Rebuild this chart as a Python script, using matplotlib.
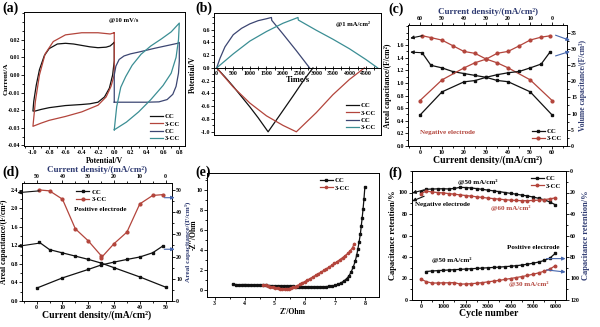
import matplotlib
matplotlib.use("Agg")
import matplotlib.pyplot as plt
from matplotlib.ticker import AutoMinorLocator, FormatStrFormatter

plt.rcParams['font.family'] = ['Liberation Serif', 'DejaVu Serif']
plt.rcParams['font.weight'] = 'bold'
plt.rcParams['axes.labelweight'] = 'bold'

BLACK = '#111111'
RED = '#b3453c'
NAVY = '#3c4672'
TEAL = '#3b8e94'
AXBLUE = '#2f3b72'
ARROW = '#4666ad'

# (a) cyclic voltammetry @10 mV/s
cv_cc_neg_v = [0.0, -0.05, -0.1, -0.2, -0.3, -0.4, -0.5, -0.6, -0.7, -0.8, -0.86, -0.92, -0.96, -0.99,
               -1.0, -0.98, -0.9, -0.8, -0.6, -0.4, -0.3, -0.2, -0.12, -0.06, -0.02, 0.0, 0.0]
cv_cc_neg_i = [0.0185, 0.0165, 0.0158, 0.0155, 0.0160, 0.0168, 0.0176, 0.0180, 0.0176, 0.0150, 0.0110,
               0.0030, -0.0060, -0.0150, -0.0205, -0.0206, -0.0196, -0.0186, -0.0174, -0.0168, -0.0164,
               -0.0155, -0.0125, -0.0075, 0.0000, 0.0080, 0.0185]
cv_3cc_neg_v = [0.0, -0.05, -0.2, -0.4, -0.6, -0.75, -0.85, -0.92, -0.97, -1.0, -0.9, -0.8, -0.6, -0.4,
                -0.2, -0.1, -0.04, 0.0, 0.0]
cv_3cc_neg_i = [0.0240, 0.0233, 0.0240, 0.0240, 0.0228, 0.0190, 0.0120, 0.0000, -0.0150, -0.0292,
                -0.0274, -0.0258, -0.0236, -0.0210, -0.0172, -0.0125, -0.0065, 0.0000, 0.0240]
cv_cc_pos_v = [0.0, 0.0, 0.02, 0.06, 0.12, 0.2, 0.3, 0.4, 0.5, 0.6, 0.7, 0.78, 0.8, 0.8, 0.79, 0.76,
               0.72, 0.65, 0.55, 0.4, 0.0]
cv_cc_pos_i = [-0.0155, 0.0000, 0.0050, 0.0088, 0.0108, 0.0120, 0.0130, 0.0141, 0.0152, 0.0162, 0.0172,
               0.0180, 0.0185, 0.0080, 0.0010, -0.0065, -0.0110, -0.0140, -0.0153, -0.0155, -0.0155]
cv_3cc_pos_v = [0.0, 0.03, 0.08, 0.14, 0.22, 0.33, 0.45, 0.58, 0.7, 0.8, 0.79, 0.76, 0.7, 0.6, 0.45,
                0.3, 0.15, 0.0]
cv_3cc_pos_i = [-0.0312, -0.0180, -0.0070, -0.0010, 0.0055, 0.0118, 0.0165, 0.0205, 0.0245, 0.0295,
                0.0200, 0.0100, 0.0010, -0.0060, -0.0140, -0.0210, -0.0268, -0.0312]

# (b) charge/discharge @1 mA/cm2
gcd_cc_pos_t = [0, 100, 250, 500, 750, 1000, 1250, 1500, 1650, 1660, 2000, 2400, 2800]
gcd_cc_pos_v = [0.0, 0.15, 0.33, 0.52, 0.62, 0.69, 0.74, 0.77, 0.79, 0.745, 0.53, 0.27, 0.0]
gcd_3cc_pos_t = [0, 500, 1000, 1500, 2000, 2450, 2460, 3000, 3500, 4000, 4500, 4850]
gcd_3cc_pos_v = [0.0, 0.22, 0.42, 0.57, 0.70, 0.79, 0.75, 0.59, 0.45, 0.30, 0.13, 0.0]
gcd_cc_neg_t = [0, 250, 500, 750, 1000, 1250, 1550, 1900, 2300, 2600, 2900]
gcd_cc_neg_v = [0.0, -0.14, -0.29, -0.45, -0.61, -0.78, -1.0, -0.74, -0.44, -0.21, 0.0]
gcd_3cc_neg_t = [0, 500, 1000, 1500, 2000, 2400, 3000, 3500, 4000, 4450]
gcd_3cc_neg_v = [0.0, -0.30, -0.55, -0.75, -0.90, -1.0, -0.70, -0.42, -0.18, 0.0]

# (c) negative electrode rate capability
c_cd = [1, 5, 10, 15, 20, 25, 30, 35, 40, 50, 60]
c_cc_areal = [1.48, 1.28, 1.24, 1.18, 1.15, 1.12, 1.09, 1.04, 1.02, 0.86, 0.49]
c_3cc_areal = [1.75, 1.72, 1.68, 1.59, 1.50, 1.47, 1.38, 1.32, 1.24, 1.05, 0.72]
c_cd_top = [60, 50, 40, 35, 30, 25, 20, 15, 10, 5, 1]
c_cc_vol = [9.5, 16.7, 19.8, 20.2, 21.2, 22.0, 22.6, 23.0, 24.1, 25.3, 29.0]
c_3cc_vol = [14.0, 20.4, 24.1, 25.7, 26.8, 28.6, 29.2, 30.9, 32.7, 33.6, 34.0]

# (d) positive electrode rate capability
d_cd = [1, 5, 10, 15, 20, 25, 30, 40, 50]
d_cc_areal = [1.27, 1.11, 1.04, 0.97, 0.90, 0.82, 0.72, 0.52, 0.30]
d_cd_top = [50, 40, 30, 25, 20, 15, 10, 5, 1]
d_cc_right = [5.8, 10.4, 14.2, 16.2, 17.5, 18.7, 19.8, 21.7, 24.8]
d_3cc_cd = [1, 5, 10, 15, 20, 25]
d_3cc_areal = [2.40, 2.38, 2.20, 1.56, 1.30, 0.98]
d_3cc_cd_top = [25, 20, 15, 10, 5, 1]
d_3cc_right = [19.4, 25.8, 31.0, 43.7, 47.5, 47.9]

# (e) Nyquist plots
z_cc_re = [3.60, 3.70, 3.80, 3.90, 4.00, 4.10, 4.20, 4.30, 4.40, 4.50, 4.60, 4.70, 4.80, 4.90, 5.00,
           5.10, 5.20, 5.30, 5.40, 5.50, 5.60, 5.70, 5.80, 5.90, 6.00, 6.10, 6.20, 6.30, 6.40, 6.50,
           6.60, 6.70, 6.80, 6.90, 7.00, 7.10, 7.20, 7.30, 7.40, 7.48, 7.55, 7.62, 7.68, 7.73, 7.77,
           7.81, 7.85, 7.88, 7.91, 7.94, 7.97, 8.00]
z_cc_im = [0.58, 0.55, 0.53, 0.54, 0.55, 0.54, 0.52, 0.50, 0.49, 0.48, 0.47, 0.46, 0.45, 0.44, 0.43,
           0.42, 0.41, 0.40, 0.39, 0.38, 0.36, 0.35, 0.34, 0.33, 0.32, 0.32, 0.31, 0.31, 0.31, 0.32,
           0.33, 0.34, 0.36, 0.40, 0.46, 0.56, 0.70, 0.90, 1.15, 1.45, 1.85, 2.35, 2.90, 3.50, 4.15,
           4.85, 5.60, 6.40, 7.20, 8.10, 9.10, 10.30]
z_3cc_re = [4.62, 4.70, 4.78, 4.86, 4.94, 5.02, 5.10, 5.18, 5.26, 5.33, 5.40, 5.47, 5.54, 5.61, 5.68,
            5.75, 5.83, 5.91, 6.00, 6.09, 6.18, 6.27, 6.36, 6.45, 6.54, 6.63, 6.72, 6.81, 6.90, 6.99,
            7.08, 7.17, 7.26, 7.35, 7.44, 7.52, 7.59, 7.65]
z_3cc_im = [0.52, 0.46, 0.40, 0.35, 0.29, 0.24, 0.19, 0.14, 0.10, 0.08, 0.10, 0.14, 0.19, 0.26, 0.34,
            0.44, 0.56, 0.70, 0.85, 1.00, 1.15, 1.31, 1.47, 1.63, 1.79, 1.96, 2.13, 2.30, 2.48, 2.66,
            2.85, 3.04, 3.24, 3.45, 3.68, 3.95, 4.25, 4.65]

# (f) cycling stability
cyc = [0, 250, 500, 750, 1000, 1250, 1500, 1750, 2000, 2250, 2500, 2750, 3000, 3250, 3500, 3750,
       4000, 4250, 4500, 4750, 5000, 5250, 5500, 5750, 6000]
ret_cc_neg = [100.5, 103.0, 103.2, 103.4, 103.5, 103.3, 103.8, 104.8, 104.6, 104.2, 103.6, 102.9,
              102.2, 101.5, 100.8, 100.0, 99.2, 98.4, 97.6, 96.8, 95.8, 94.6, 93.2, 91.2, 88.5]
ret_3cc_neg = [99.0, 101.3, 100.5, 100.0, 99.6, 99.0, 98.4, 97.8, 97.2, 96.6, 96.0, 95.4, 94.8,
               94.3, 93.8, 93.3, 92.9, 92.6, 92.4, 92.4, 92.6, 92.9, 93.4, 94.1, 95.0]
cyc_cc_pos = cyc[1:]
ret_cc_pos = [93.5, 93.0, 92.7, 92.4, 92.1, 91.8, 91.5, 91.2, 90.9, 90.6, 90.3, 90.0, 89.7, 89.4,
              89.0, 88.6, 88.1, 87.5, 86.7, 85.8, 84.7, 83.2, 81.0, 76.5]
ret_3cc_pos = [100.5, 103.0, 104.2, 104.2, 104.0, 104.0, 103.8, 105.2, 105.1, 104.8, 104.4, 103.8,
               103.1, 102.4, 101.7, 100.9, 100.0, 99.1, 98.2, 97.2, 96.0, 94.8, 93.2, 91.2, 88.0]

W, H = 600, 327
fig = plt.figure(figsize=(W / 100, H / 100), dpi=100)


def box(l, t, r, b):
    return [l / W, 1 - b / H, (r - l) / W, (b - t) / H]


def style(ax, minor=True):
    ax.tick_params(which='both', labelsize=4.2, width=0.6, pad=1, direction='out')
    ax.tick_params(which='major', length=2)
    ax.tick_params(which='minor', length=1.2)
    if minor:
        ax.xaxis.set_minor_locator(AutoMinorLocator(2))
        ax.yaxis.set_minor_locator(AutoMinorLocator(2))
    for sp in ax.spines.values():
        sp.set_linewidth(0.7)


def arrow(ax, tail, head, color=BLACK):
    ax.annotate('', xy=head, xytext=tail, annotation_clip=False,
                arrowprops=dict(arrowstyle='-|>', color=color, lw=0.8, mutation_scale=5,
                                shrinkA=0, shrinkB=0))


def twin_top_right(ax):
    ax2 = fig.add_axes(ax.get_position(), frameon=False)
    ax2.patch.set_visible(False)
    ax2.xaxis.tick_top()
    ax2.xaxis.set_label_position('top')
    ax2.yaxis.tick_right()
    ax2.yaxis.set_label_position('right')
    return ax2


lab = dict(fontsize=5.5, labelpad=1)
leg = dict(frameon=False, fontsize=4.8, handlelength=2.0, handletextpad=0.3, labelspacing=0.25,
           borderpad=0.2)

# ---- (a)
ax = fig.add_axes(box(24, 12, 185, 146))
ax.plot(cv_cc_neg_v, cv_cc_neg_i, color=BLACK, lw=0.9, label='CC')
ax.plot(cv_3cc_neg_v, cv_3cc_neg_i, color=RED, lw=0.9, label='3-CC')
ax.plot(cv_cc_pos_v, cv_cc_pos_i, color=NAVY, lw=0.9, label='CC')
ax.plot(cv_3cc_pos_v, cv_3cc_pos_i, color=TEAL, lw=0.9, label='3-CC')
ax.set_xlim(-1.11, 0.87)
ax.set_ylim(-0.0404, 0.0358)
ax.set_xticks([-1.0, -0.8, -0.6, -0.4, -0.2, 0.0, 0.2, 0.4, 0.6, 0.8])
ax.set_yticks([-0.04, -0.03, -0.02, -0.01, 0.0, 0.01, 0.02])
ax.xaxis.set_major_formatter(FormatStrFormatter('%.1f'))
ax.yaxis.set_major_formatter(FormatStrFormatter('%.2f'))
style(ax)
ax.set_xlabel('Potential/V', **lab)
ax.set_ylabel('Current/A', fontsize=5.2, labelpad=1)
ax.yaxis.set_label_coords(-0.097, 0.5)
ax.text(0.62, 0.94, '@10 mV/s', transform=ax.transAxes, fontsize=4.8, ha='center', va='center')
ax.legend(loc='lower right', **leg)

# ---- (b)
ax = fig.add_axes(box(214, 13, 381, 135))
ax.plot(gcd_cc_neg_t, gcd_cc_neg_v, color=BLACK, lw=0.9, label='CC')
ax.plot(gcd_3cc_neg_t, gcd_3cc_neg_v, color=RED, lw=0.9, label='3-CC')
ax.plot(gcd_cc_pos_t, gcd_cc_pos_v, color=NAVY, lw=0.9, label='CC')
ax.plot(gcd_3cc_pos_t, gcd_3cc_pos_v, color=TEAL, lw=0.9, label='3-CC')
ax.set_xlim(-80, 4950)
ax.set_ylim(-1.05, 0.86)
ax.set_xticks(range(0, 5000, 500))
ax.set_yticks([-1.0, -0.8, -0.6, -0.4, -0.2, 0.0, 0.2, 0.4, 0.6])
ax.yaxis.set_major_formatter(FormatStrFormatter('%.1f'))
style(ax)
ax.spines['bottom'].set_position(('data', 0))
ax.tick_params(axis='x', which='both', direction='inout', length=2.5)
ax.plot([0, 1], [0, 0], transform=ax.transAxes, color='k', lw=0.7, clip_on=False)
ax.set_xlabel('Time/s', fontsize=6, labelpad=0)
ax.set_ylabel('Potential/V', **lab)
ax.yaxis.set_label_coords(-0.10, 0.5)
ax.text(0.83, 0.91, '@1 mA/cm²', transform=ax.transAxes, fontsize=4.8, ha='center', va='center')
ax.legend(loc='lower right', **leg)

# ---- (c)
ax = fig.add_axes(box(408, 25, 567, 146))
ax.plot(c_cd, c_cc_areal, color=BLACK, lw=0.9, marker='s', ms=2, label='CC')
ax.plot(c_cd, c_3cc_areal, color=RED, lw=0.9, marker='o', ms=2, label='3-CC')
ax.set_xlim(-5.4, 66.7)
ax.set_ylim(0, 1.92)
ax.set_xticks(range(0, 70, 10))
ax.set_yticks([0.0, 0.2, 0.4, 0.6, 0.8, 1.0, 1.2, 1.4, 1.6])
ax.yaxis.set_major_formatter(FormatStrFormatter('%.1f'))
style(ax)
ax.set_xlabel('Current density/(mA/cm²)', fontsize=7, labelpad=0)
ax.set_ylabel('Areal capacitance/(F/cm²)', **lab)
ax.yaxis.set_label_coords(-0.10, 0.5)
ax.text(0.0, 0.19, 'Negative electrode', color=RED, fontsize=5)
ax.legend(loc='lower right', **leg)
arrow(ax, (1.1, 1.75), (-4.4, 1.71))
arrow(ax, (1.1, 1.48), (-4.4, 1.49))
ax2 = twin_top_right(ax)
ax2.plot(c_cd_top, c_cc_vol, color=BLACK, lw=0.9, marker='s', ms=2)
ax2.plot(c_cd_top, c_3cc_vol, color=RED, lw=0.9, marker='o', ms=2)
ax2.set_xlim(65.4, -6.7)
ax2.set_ylim(0, 1.92 * 19.45)
ax2.set_xticks(range(0, 70, 10))
ax2.set_yticks(range(0, 40, 5))
style(ax2)
ax2.set_xlabel('Current density/(mA/cm²)', fontsize=6.5, color=AXBLUE, labelpad=1)
ax2.set_ylabel('Volume capacitance/(F/cm³)', fontsize=5.5, color=AXBLUE, labelpad=1)
ax2.yaxis.set_label_coords(1.075, 0.5)
arrow(ax2, (-1.5, 34.2), (-8.0, 32.6), ARROW)
arrow(ax2, (-1.5, 27.8), (-8.0, 29.2), ARROW)

# ---- (d)
ax = fig.add_axes(box(22, 183, 172, 301))
ax.plot(d_cd, d_cc_areal, color=BLACK, lw=0.9, marker='s', ms=2, label='CC')
ax.plot(d_3cc_cd, d_3cc_areal, color=RED, lw=0.9, marker='o', ms=2, label='3-CC')
ax.set_xlim(-5.7, 52.5)
ax.set_ylim(0, 2.55)
ax.set_xticks(range(0, 60, 10))
ax.set_yticks([0.0, 0.4, 0.8, 1.2, 1.6, 2.0, 2.4])
ax.yaxis.set_major_formatter(FormatStrFormatter('%.1f'))
style(ax)
ax.set_xlabel('Current density/(mA/cm²)', fontsize=7, labelpad=0)
ax.set_ylabel('Areal capacitance/(F/cm²)', **lab)
ax.yaxis.set_label_coords(-0.095, 0.5)
ax.text(24.6, 1.98, 'Positive electrode', fontsize=5, ha='center', va='center')
ax.legend(loc='upper left', bbox_to_anchor=(0.33, 0.99), **leg)
arrow(ax, (1, 2.38), (-7.5, 2.34))
arrow(ax, (1, 1.25), (-7.5, 1.18))
ax2 = twin_top_right(ax)
ax2.plot(d_cd_top, d_cc_right, color=BLACK, lw=0.9, marker='s', ms=2)
ax2.plot(d_3cc_cd_top, d_3cc_right, color=RED, lw=0.9, marker='o', ms=2)
ax2.set_xlim(55.7, -2.5)
ax2.set_ylim(0, 2.55 * 20.83)
ax2.set_xticks(range(0, 60, 10))
ax2.set_yticks(range(0, 60, 10))
style(ax2)
ax2.set_xlabel('Current density/(mA/cm²)', fontsize=6.5, color=AXBLUE, labelpad=1)
ax2.set_ylabel('Areal capacitance/(F/cm³)', fontsize=5.2, color=AXBLUE, labelpad=1)
ax2.yaxis.set_label_coords(1.085, 0.5)
arrow(ax2, (0.5, 46.5), (-3.5, 46.5), ARROW)
arrow(ax2, (0.5, 23.3), (-3.5, 23.3), ARROW)

# ---- (e)
ax = fig.add_axes(box(207, 173, 379, 297))
ax.plot(z_cc_re, z_cc_im, color=BLACK, lw=0.9, marker='s', ms=1.6, label='CC')
ax.plot(z_3cc_re, z_3cc_im, color=RED, lw=0.9, marker='o', ms=1.6, label='3-CC')
ax.set_xlim(2.75, 8.47)
ax.set_ylim(-0.7, 11.7)
ax.set_xticks(range(3, 9))
ax.set_yticks(range(0, 12, 2))
style(ax)
ax.set_xlabel("Z'/Ohm", **lab)
ax.set_ylabel("-Z''/Ohm", **lab)
ax.yaxis.set_label_coords(-0.052, 0.5)
ax.legend(loc='upper right', bbox_to_anchor=(0.86, 1.0), **leg)

# ---- (f)
ax = fig.add_axes(box(412, 171, 566, 300))
ax.plot(cyc, ret_cc_neg, color=BLACK, lw=0.9, marker='s', ms=1.8, label='CC')
ax.plot(cyc, ret_3cc_neg, color=RED, lw=0.9, marker='o', ms=1.8, label='3-CC')
ax.set_xlim(-390, 6470)
ax.set_ylim(0, 120)
ax.set_xticks(range(0, 7000, 1000))
ax.set_yticks(range(0, 120, 20))
style(ax)
ax.set_xlabel('Cycle number', fontsize=7, labelpad=0)
ax.set_ylabel('Capacitance retention/%', fontsize=6, labelpad=1)
ax.yaxis.set_label_coords(-0.10, 0.5)
ax.legend(loc='upper right', **leg)
ax.text(2550, 110, '@50 mA/cm²', fontsize=5, ha='center', va='center')
ax.text(950, 89, 'Negative electrode', fontsize=5, ha='center', va='center')
ax.text(4000, 85.5, '@60 mA/cm²', color=RED, fontsize=5, ha='center', va='center')
ax.text(5000, 49, 'Positive electrode', fontsize=5, ha='center', va='center')
ax.text(1400, 37.5, '@50 mA/cm²', fontsize=5, ha='center', va='center')
ax.text(4800, 15, '@30 mA/cm²', color=RED, fontsize=5, ha='center', va='center')
arrow(ax, (150, 102.5), (-380, 99.5))
arrow(ax, (150, 96.5), (-380, 92.0))
axr = ax.twinx()
axr.plot(cyc_cc_pos, ret_cc_pos, color=BLACK, lw=0.9, marker='s', ms=1.8)
axr.plot(cyc, ret_3cc_pos, color=RED, lw=0.9, marker='o', ms=1.8)
axr.set_ylim(120, 0)
axr.set_yticks(range(0, 140, 20))
style(axr)
axr.set_ylabel('Capacitance retention/%', fontsize=6, color=AXBLUE, labelpad=1)
axr.yaxis.set_label_coords(1.105, 0.5)
arrow(axr, (5600, 81.5), (6450, 81.5), ARROW)
arrow(axr, (5600, 92.0), (6450, 94.0), ARROW)

# panel letters
for s, x, y in [('(a)', 2, 2), ('(b)', 195, 2), ('(c)', 388, 3),
                ('(d)', 2, 166), ('(e)', 195, 166), ('(f)', 388, 167)]:
    fig.text(x / W, 1 - y / H, s, fontsize=10, va='top', ha='left')

fig.savefig('out.png', dpi=100)
